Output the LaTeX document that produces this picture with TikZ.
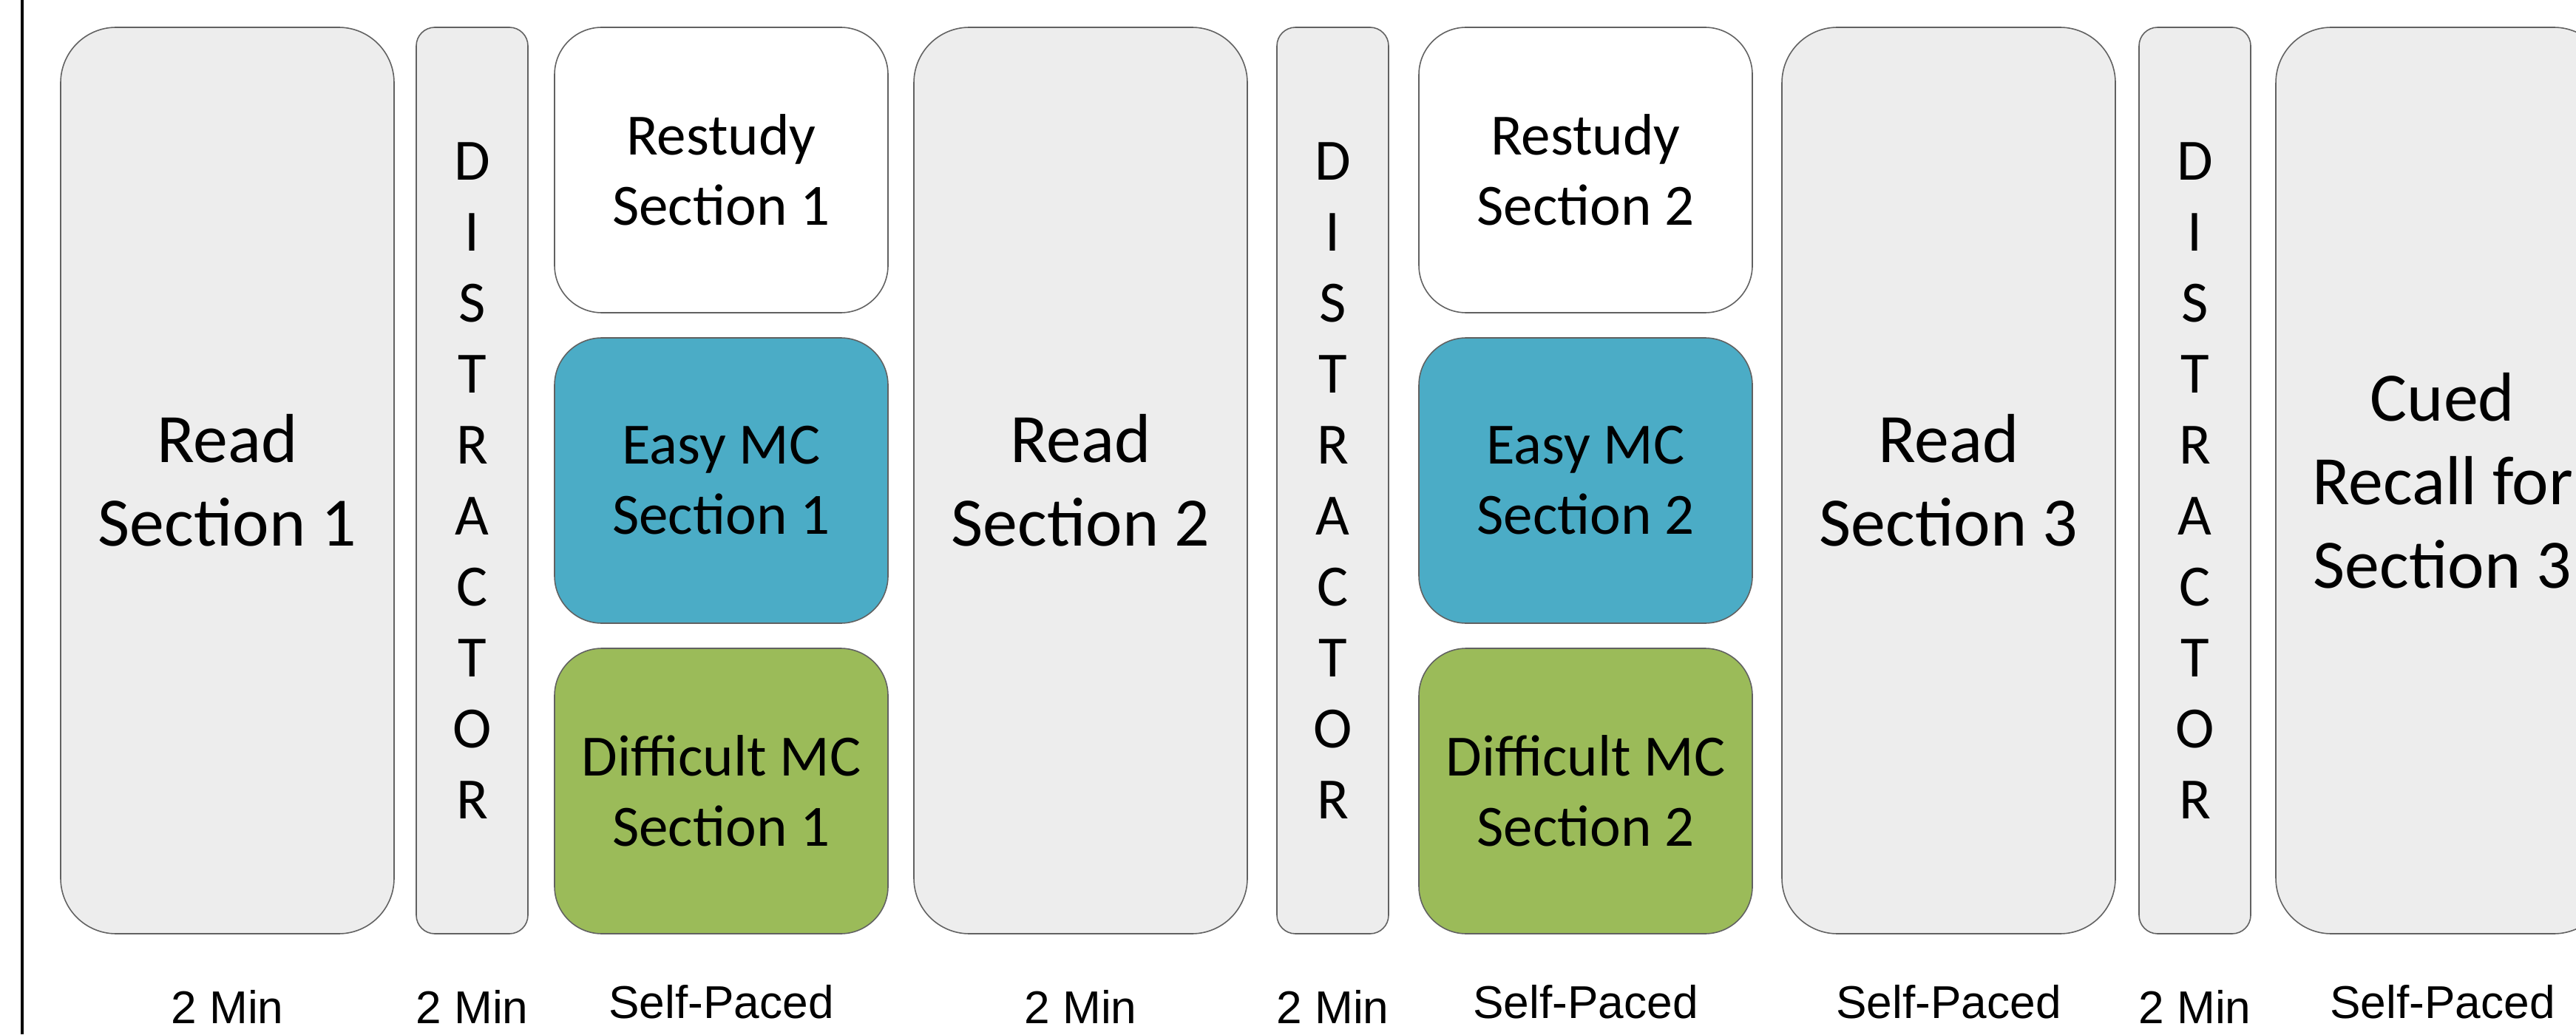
\documentclass[tikz,border=0pt]{standalone}
\usepackage{fontspec}
\setmainfont{Carlito}
\newfontfamily\labelfont{Liberation Sans}
\usepackage{xcolor}
\usetikzlibrary{positioning}
\definecolor{panel}{HTML}{EDEDED}
\definecolor{boxline}{HTML}{616161}
\definecolor{easyblue}{HTML}{4BACC6}
\definecolor{hardgreen}{HTML}{9BBB59}

\begin{document}
\begin{tikzpicture}[
  bigbox/.style={rectangle, draw=boxline, line width=0.45pt, fill=panel, minimum width=4.51cm, minimum height=12.26cm, inner sep=0pt, outer sep=0pt, align=center, rounded corners=0.75cm, font=\fontsize{26.7}{32.2}\selectfont},
  distbox/.style={bigbox, minimum width=1.51cm, rounded corners=0.25cm, font=\fontsize{22.5}{27.3}\selectfont},
  smallbox/.style={bigbox, minimum height=3.86cm, rounded corners=0.64cm, font=\fontsize{22.5}{27}\selectfont},
  tlabel/.style={anchor=base, inner sep=0pt, font=\labelfont\fontsize{17.7}{21}\selectfont}
]
\useasboundingbox (0,0) rectangle (34.84,13.99);
\clip (0,0) rectangle (34.84,13.99);
\draw[line width=0.04cm] (0.30,0) -- (0.30,13.99);

% section 1
\node[bigbox] (read1) at (3.075,7.49) {Read\\Section 1};
\node[distbox, right=0.30cm of read1] (dist1) {D\\I\\S\\T\\R\\A\\C\\T\\O\\R};
\node[smallbox, fill=easyblue, right=0.36cm of dist1] (easy1) {Easy MC\\Section 1};
\node[smallbox, fill=white, above=0.34cm of easy1] (rest1) {Restudy\\Section 1};
\node[smallbox, fill=hardgreen, below=0.34cm of easy1] (hard1) {Difficult MC\\Section 1};

% section 2
\node[bigbox, right=0.35cm of easy1] (read2) {Read\\Section 2};
\node[distbox, right=0.40cm of read2] (dist2) {D\\I\\S\\T\\R\\A\\C\\T\\O\\R};
\node[smallbox, fill=easyblue, right=0.41cm of dist2] (easy2) {Easy MC\\Section 2};
\node[smallbox, fill=white, above=0.34cm of easy2] (rest2) {Restudy\\Section 2};
\node[smallbox, fill=hardgreen, below=0.34cm of easy2] (hard2) {Difficult MC\\Section 2};

% section 3
\node[bigbox, right=0.40cm of easy2] (read3) {Read\\Section 3};
\node[distbox, right=0.32cm of read3] (dist3) {D\\I\\S\\T\\R\\A\\C\\T\\O\\R};
\node[bigbox, right=0.34cm of dist3] (cued) {Cued\\Recall for\\Section 3};

% timing
\node[tlabel] (t1) at ([yshift=-1.21cm]read1.south) {2 Min};
\node[tlabel] (t2) at ([yshift=-1.21cm]dist1.south) {2 Min};
\node[tlabel] (t3) at ([yshift=-1.14cm]hard1.south) {Self-Paced};
\node[tlabel] (t4) at ([yshift=-1.21cm]read2.south) {2 Min};
\node[tlabel] (t5) at ([yshift=-1.21cm]dist2.south) {2 Min};
\node[tlabel] (t6) at ([yshift=-1.14cm]hard2.south) {Self-Paced};
\node[tlabel] (t7) at ([yshift=-1.14cm]read3.south) {Self-Paced};
\node[tlabel] (t8) at ([yshift=-1.21cm]dist3.south) {2 Min};
\node[tlabel] (t9) at ([yshift=-1.14cm]cued.south) {Self-Paced};
\end{tikzpicture}
\end{document}
